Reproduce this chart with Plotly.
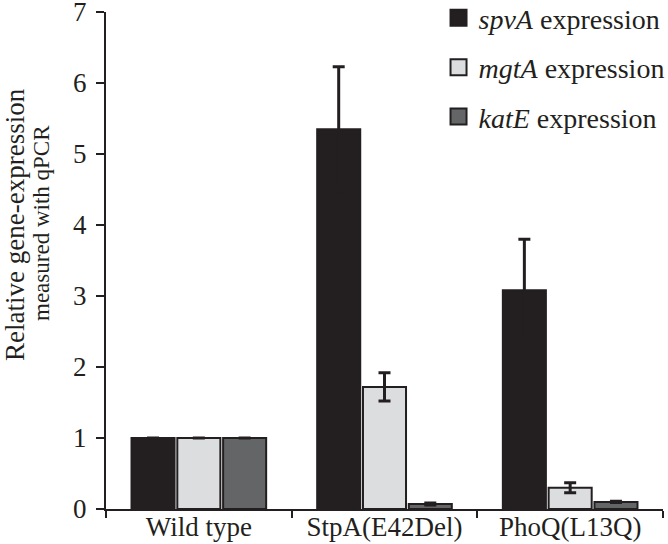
import plotly.graph_objects as go

categories = ["Wild type", "StpA(E42Del)", "PhoQ(L13Q)"]
series_names = ["<i>spvA</i> expression", "<i>mgtA</i> expression", "<i>katE</i> expression"]
spvA = [1.0, 5.35, 3.08]
spvA_err = [None, 0.88, 0.72]
mgtA = [1.0, 1.72, 0.30]
mgtA_err = [None, 0.20, 0.07]
katE = [1.0, 0.07, 0.10]
katE_err = [None, 0.015, 0.01]
y_ticks = [0, 1, 2, 3, 4, 5, 6, 7]

dark = "#231f20"
fills = [dark, "#dcdddf", "#646567"]
FONT = "Liberation Serif"

fig = go.Figure()
for name, vals, errs, col in zip(series_names, [spvA, mgtA, katE], [spvA_err, mgtA_err, katE_err], fills):
    fig.add_trace(go.Bar(
        x=categories, y=vals, name=name,
        marker=dict(color=col, line=dict(color=dark, width=2)),
        error_y=dict(type="data", array=errs, visible=True, color=dark, thickness=3, width=6),
        showlegend=False,
    ))
# legend entries with larger square swatches
for i, (name, col) in enumerate(zip(series_names, fills)):
    fig.add_trace(go.Scatter(
        x=[None], y=[None], mode="markers", name=name, legendgroup=f"g{i}",
        marker=dict(symbol="square", size=16, color=col, line=dict(color=dark, width=2)),
        showlegend=True,
    ))

fig.update_layout(
    width=668, height=544,
    margin=dict(l=106, r=5, t=12, b=35, autoexpand=False),
    paper_bgcolor="white", plot_bgcolor="white",
    barmode="group", bargap=0.26, bargroupgap=0.06,
    font=dict(family=FONT, color=dark, size=26),
    showlegend=True,
    legend=dict(x=0.597, y=1.038, xanchor="left", yanchor="top",
                font=dict(family=FONT, size=28, color=dark),
                tracegroupgap=10, bgcolor="rgba(0,0,0,0)", traceorder="grouped",
                itemsizing="trace"),
    xaxis=dict(type="category", showline=True, linecolor=dark, linewidth=2,
               ticks="outside", tickson="boundaries", ticklen=7, tickwidth=2, tickcolor=dark,
               tickfont=dict(family=FONT, size=27, color=dark), showgrid=False, zeroline=False,
               automargin=False, ticklabelstandoff=-7, ticklabeloverflow="allow"),
    yaxis=dict(range=[0, 7], tickvals=y_ticks, showline=True, linecolor=dark, linewidth=2,
               ticks="outside", ticklen=8, tickwidth=2, tickcolor=dark,
               tickfont=dict(family=FONT, size=27, color=dark), showgrid=False, zeroline=False,
               automargin=False, ticklabelstandoff=4, ticklabeloverflow="allow"),
)

W, H = 668, 544
l, r, t, b = 106, 5, 12, 35
pw, ph = W - l - r, H - t - b

def px_to_paper(px, py):
    return (px - l) / pw, 1 - (py - t) / ph

ax1, ay1 = px_to_paper(15, 225)
fig.add_annotation(text="Relative gene-expression", x=ax1, y=ay1, xref="paper", yref="paper",
                   xanchor="center", yanchor="middle",
                   showarrow=False, textangle=-90, font=dict(family=FONT, size=27, color=dark))
ax2, ay2 = px_to_paper(41, 223)
fig.add_annotation(text="measured with qPCR", x=ax2, y=ay2, xref="paper", yref="paper",
                   xanchor="center", yanchor="middle",
                   showarrow=False, textangle=-90, font=dict(family=FONT, size=23, color=dark))

fig.write_html("out.html", config={"displayModeBar": False},
               post_script="document.body.style.margin='0';document.body.style.overflow='hidden';")
